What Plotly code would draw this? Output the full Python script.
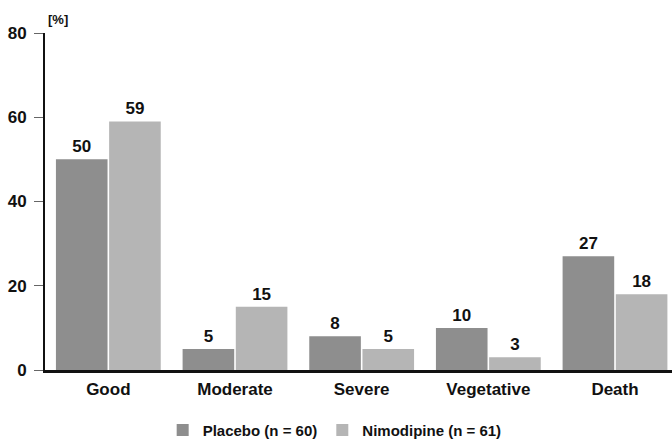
import plotly.graph_objects as go

categories = ["Good", "Moderate", "Severe", "Vegetative", "Death"]
placebo = [50, 5, 8, 10, 27]
nimodipine = [59, 15, 5, 3, 18]
series_names = ["Placebo (n = 60)", "Nimodipine (n = 61)"]
y_ticks = [0, 20, 40, 60, 80]

font_family = "Liberation Sans, Arial, sans-serif"

fig = go.Figure()
fig.add_trace(go.Bar(
    x=categories, y=placebo, name="<b>%s</b>" % series_names[0],
    marker=dict(color="#8e8e8e", line=dict(width=0)),
    text=["<b>%d</b>" % v for v in placebo], textposition="outside",
    textfont=dict(size=17, color="#111", family=font_family),
    cliponaxis=False,
))
fig.add_trace(go.Bar(
    x=categories, y=nimodipine, name="<b>%s</b>" % series_names[1],
    marker=dict(color="#b5b5b5", line=dict(width=0)),
    text=["<b>%d</b>" % v for v in nimodipine], textposition="outside",
    textfont=dict(size=17, color="#111", family=font_family),
    cliponaxis=False,
))

fig.update_layout(
    width=672, height=446,
    margin=dict(l=45, r=0, t=33, b=76, autoexpand=False),
    paper_bgcolor="white", plot_bgcolor="white",
    barmode="group", bargap=0.16, bargroupgap=0.03,
    font=dict(family=font_family, size=15, color="#111"),
    showlegend=True,
    legend=dict(orientation="h", x=0.462, xanchor="center", y=-0.13, yanchor="top",
                font=dict(size=15, family=font_family, color="#111"),
                itemwidth=30, tracegroupgap=0, traceorder="normal"),
    xaxis=dict(range=[-0.5, 4.45], showline=True, linecolor="#111", linewidth=2.5,
               ticks="", tickvals=categories,
               ticktext=["<b>%s</b>" % c for c in categories],
               ticklabelstandoff=2,
               tickfont=dict(size=17, family=font_family, color="#111"),
               showgrid=False, zeroline=False),
    yaxis=dict(range=[0, 80], tickvals=y_ticks,
               ticktext=["<b>%d</b>" % t for t in y_ticks],
               showline=True, linecolor="#111",
               linewidth=2, ticks="outside", ticklen=9, tickcolor="#666",
               ticklabelstandoff=4,
               tickfont=dict(size=17, family=font_family, color="#111"),
               showgrid=False, zeroline=False),
    annotations=[dict(text="<b>[%]</b>", xref="paper", yref="paper", x=0.0, y=1.0,
                      xanchor="left", yanchor="bottom", showarrow=False, yshift=4, xshift=1,
                      font=dict(size=13, family=font_family, color="#111"))],
)

fig.write_html("out.html")
